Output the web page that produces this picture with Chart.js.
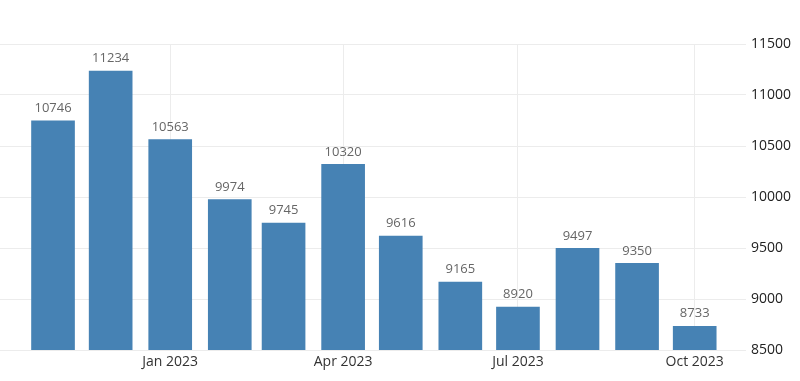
<!DOCTYPE html>
<html>
<head>
<meta charset="utf-8">
<script src="https://cdn.jsdelivr.net/npm/chart.js@4"></script>
<style>
  html, body { margin: 0; padding: 0; background: #fff; }
  #wrap { width: 800px; height: 381px; }
</style>
</head>
<body>
<div id="wrap"><canvas id="chart"></canvas></div>
<script>
"use strict";

// monthly values, Nov 2022 .. Oct 2023
const MONTHS = ["2022-11", "2022-12", "2023-01", "2023-02", "2023-03", "2023-04",
                "2023-05", "2023-06", "2023-07", "2023-08", "2023-09", "2023-10"];
const VALUES = [10746, 11234, 10563, 9974, 9745, 10320, 9616, 9165, 8920, 9497, 9350, 8733];

const TICK_MONTHS = ["2023-01", "2023-04", "2023-07", "2023-10"];
const TICK_LABELS = ["Jan 2023", "Apr 2023", "Jul 2023", "Oct 2023"];

const Y_TICKS = [8500, 9000, 9500, 10000, 10500, 11000, 11500];

const BAR_COLOR = "#4682b4";
const FONT = "'Open Sans', 'Noto Sans', sans-serif";

// month string -> day number (bars sit on the first of each month)
function dayOf(ym) {
  const [y, m] = ym.split("-").map(Number);
  return Date.UTC(y, m - 1, 1) / 86400000;
}

const points = MONTHS.map((m, i) => ({ x: dayOf(m), y: VALUES[i] }));
const tickDays = TICK_MONTHS.map(dayOf);
const first = dayOf(MONTHS[0]);

const valueLabels = {
  id: "valueLabels",
  afterDatasetsDraw(chart) {
    const ctx = chart.ctx;
    const meta = chart.getDatasetMeta(0);
    ctx.save();
    ctx.font = "13px " + FONT;
    ctx.fillStyle = "#666";
    ctx.textAlign = "center";
    ctx.textBaseline = "bottom";
    meta.data.forEach((bar, i) => {
      ctx.fillText(String(VALUES[i]), bar.x, bar.y - 6);
    });
    ctx.restore();
  },
};

new Chart(document.getElementById("chart"), {
  type: "bar",
  data: {
    datasets: [{
      data: points,
      backgroundColor: BAR_COLOR,
      borderWidth: 0,
      barThickness: 43,
    }],
  },
  options: {
    responsive: true,
    maintainAspectRatio: false,
    animation: false,
    layout: { padding: { top: 44, left: 0, right: 0, bottom: 0 } },
    plugins: {
      legend: { display: false },
      tooltip: { enabled: false },
    },
    scales: {
      x: {
        type: "linear",
        offset: false,
        bounds: "data",
        min: first - 27.6,
        max: first + 360.7,
        afterBuildTicks: (axis) => { axis.ticks = tickDays.map((v) => ({ value: v })); },
        afterFit: (axis) => { axis.height = 31; },
        ticks: {
          autoSkip: false,
          maxRotation: 0,
          padding: 4,
          color: "#333",
          font: { family: FONT, size: 14 },
          callback: (v) => TICK_LABELS[tickDays.indexOf(v)] ?? "",
        },
        grid: { color: "#ececec", drawTicks: false, offset: false },
        border: { display: false },
      },
      y: {
        position: "right",
        min: 8500,
        max: 11500,
        afterBuildTicks: (axis) => { axis.ticks = Y_TICKS.map((v) => ({ value: v })); },
        afterFit: (axis) => { axis.width = 54; },
        ticks: {
          padding: 5,
          color: "#222",
          font: { family: FONT, size: 14 },
          callback: (v) => String(v),
        },
        grid: { color: "#ececec", drawTicks: false },
        border: { display: false },
      },
    },
  },
  plugins: [valueLabels],
});
</script>
</body>
</html>
